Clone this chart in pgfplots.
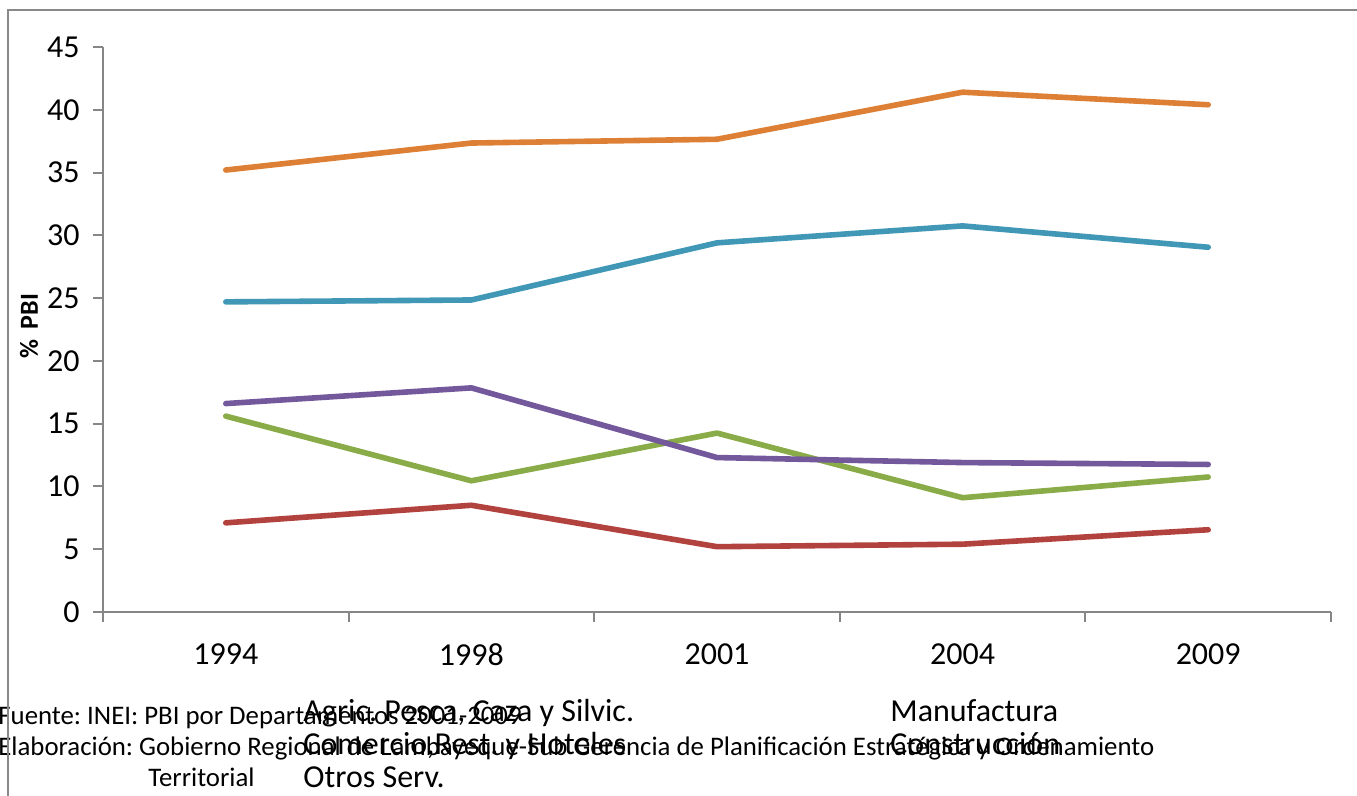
\documentclass[border=0pt]{standalone}
\usepackage{fontspec}
\setmainfont{Carlito}
\usepackage{pgfplots}
\pgfplotsset{compat=1.18}

\definecolor{cOrange}{RGB}{221,127,52}
\definecolor{cTeal}{RGB}{65,152,182}
\definecolor{cPurple}{RGB}{115,89,155}
\definecolor{cGreen}{RGB}{138,172,72}
\definecolor{cRed}{RGB}{178,66,62}
\definecolor{axisGrey}{RGB}{134,134,134}
\definecolor{frameGrey}{RGB}{137,137,137}

\begin{document}
\frenchspacing
\begin{tikzpicture}
\useasboundingbox (0,0) rectangle (678.5pt,398pt);
% source notes under the chart
\node[anchor=base west, inner sep=0pt, font=\fontsize{13.4}{15}\selectfont] at (-1pt,35.8pt)
  {Fuente: INEI: PBI por Departamentos 2001-2009};
\node[anchor=base west, inner sep=0pt, font=\fontsize{13.4}{15}\selectfont] at (-1pt,20.3pt)
  {Elaboración: Gobierno Regional de Lambayeque-Sub Gerencia de Planificación Estratégica y Ordenamiento};
\node[anchor=base west, inner sep=0pt, font=\fontsize{13.4}{15}\selectfont] at (74pt,4.8pt)
  {Territorial};
\draw[line width=1pt, color=frameGrey] (4pt,-5pt) -- (4pt,393pt) -- (690pt,393pt);

\begin{axis}[
    at={(51.5pt,92pt)}, anchor=south west,
    scale only axis, width=614pt, height=282.5pt,
    xmin=-0.5, xmax=4.5, ymin=0, ymax=45,
    axis lines*=left,
    axis line style={color=axisGrey, line width=1pt},
    xtick={0,1,2,3,4},
    xticklabels={1994,1998,2001,2004,2009},
    minor xtick={-0.5,0.5,1.5,2.5,3.5,4.5},
    ytick={0,5,...,45},
    tick align=outside,
    major tick length=5pt, minor tick length=5pt,
    tick style={color=axisGrey, line width=1pt},
    every major x tick/.style={draw=none},
    /pgf/number format/assume math mode=true,
    xticklabel style={font=\fontsize{16}{19}\selectfont, inner sep=0pt, yshift=-10.5pt},
    yticklabel style={font=\fontsize{16}{19}\selectfont, inner sep=0pt, xshift=-6.5pt},
    legend style={at={(axis description cs:0.1629,-0.154)}, anchor=north west,
        draw=none, fill=none, inner sep=0pt, legend columns=2,
        column sep=0pt, row sep=2pt,
        nodes={inner sep=0pt, text height=11pt, text depth=3.5pt,
            font=\fontsize{16}{19}\selectfont}},
    legend image code/.code={},
    legend cell align=left,
    every axis plot/.append style={line width=2.8pt, line cap=round, line join=round},
]
\addplot[cGreen] coordinates {(0,15.6)(1,10.45)(2,14.25)(3,9.1)(4,10.75)};
\addlegendentry{\makebox[293.5pt][l]{Agric. Pesca, Caza y Silvic.}}
\addplot[cPurple] coordinates {(0,16.6)(1,17.85)(2,12.3)(3,11.9)(4,11.75)};
\addlegendentry{Manufactura}
\addplot[cTeal] coordinates {(0,24.7)(1,24.85)(2,29.4)(3,30.75)(4,29.05)};
\addlegendentry{\makebox[293.5pt][l]{Comercio,Rest. y Hoteles}}
\addplot[cRed] coordinates {(0,7.1)(1,8.5)(2,5.2)(3,5.4)(4,6.55)};
\addlegendentry{Construcción}
\addplot[cOrange] coordinates {(0,35.2)(1,37.35)(2,37.65)(3,41.4)(4,40.4)};
\addlegendentry{\makebox[293.5pt][l]{Otros Serv.}}
\end{axis}

\node[rotate=90, inner sep=0pt, font=\bfseries\fontsize{13}{15}\selectfont] at (14.5pt,235pt) {\%\hspace{5pt}PBI};
\end{tikzpicture}
\end{document}
